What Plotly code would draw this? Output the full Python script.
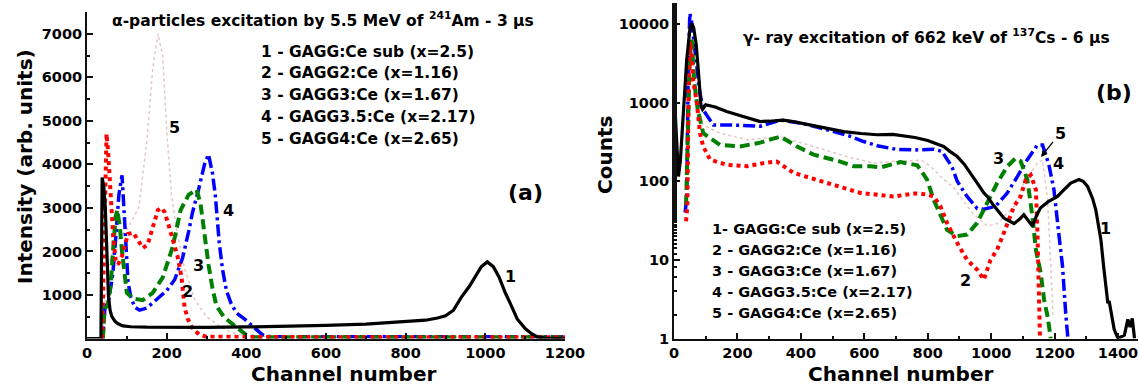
import plotly.graph_objects as go

# ---------------- Panel (a): alpha excitation ----------------
ch1a = [0, 30, 35, 38, 42, 46, 50, 54, 58, 62, 70, 78, 90, 110, 150, 200, 300, 400, 500, 600,
        700, 800, 850, 880, 900, 920, 940, 960, 975, 990, 1005, 1020, 1035, 1050, 1066, 1080,
        1100, 1116, 1130, 1150, 1200]
v1a = [0, 0, 0, 3700, 3500, 3000, 1800, 950, 650, 510, 400, 337, 290, 270, 260, 255, 255, 265, 280, 300,
       330, 380, 420, 470, 520, 650, 950, 1200, 1430, 1650, 1760, 1650, 1400, 1050, 740, 450,
       230, 110, 40, 10, 0]

ch2a = [38, 42, 45, 49, 53, 57, 61, 66, 72, 78, 88, 103, 116, 128, 140, 152, 165, 178, 187, 195,
        205, 216, 227, 237, 245, 253, 262, 272, 282, 300, 400, 600, 800, 1000, 1200]
v2a = [0, 1500, 3500, 4700, 4300, 3700, 3000, 2300, 1800, 1700, 1900, 2400, 2430, 2250, 2080, 2150,
       2550, 2950, 3000, 2900, 2600, 2270, 1900, 1430, 710, 450, 280, 170, 90, 40, 30, 30, 30, 30, 30]

ch3a = [40, 44, 52, 60, 66, 72, 76, 82, 88, 94, 100, 115, 140, 165, 190, 215, 235, 255, 275, 285,
        295, 305, 315, 325, 345, 365, 385, 400, 420, 600, 800, 1000, 1200]
v3a = [0, 700, 750, 1300, 2100, 2800, 2950, 2600, 2000, 1400, 1050, 920, 880, 1050, 1400, 2100, 2950,
       3300, 3420, 3100, 2300, 1700, 1150, 750, 480, 340, 180, 80, 30, 30, 30, 30, 30]

ch4a = [40, 45, 55, 65, 72, 80, 88, 93, 97, 103, 110, 120, 132, 150, 174, 200, 220, 240, 255, 265,
        280, 295, 305, 315, 322, 332, 340, 350, 362, 375, 395, 410, 425, 440, 460, 600, 800, 1000, 1200]
v4a = [0, 700, 900, 1500, 2300, 3300, 3750, 3000, 2300, 1300, 950, 720, 650, 700, 890, 1100, 1350,
       1850, 2450, 2900, 3420, 4000, 4230, 3800, 3300, 2200, 1600, 1100, 800, 590, 450, 330, 200, 90,
       40, 40, 40, 40, 40]

ch5a = [40, 50, 70, 100, 130, 150, 165, 178, 190, 200, 212, 225, 245, 270, 300, 330, 360, 400, 600, 1200]
v5a = [0, 1500, 2200, 2500, 3000, 4500, 6200, 7000, 6500, 4800, 3300, 2500, 1600, 900, 500, 300,
       150, 50, 30, 30]

# ---------------- Panel (b): gamma excitation ----------------
ch1b = [0, 5, 10, 14, 20, 30, 40, 50, 56, 62, 70, 78, 85, 90, 100, 130, 166, 218, 272, 300, 345,
        380, 430, 480, 535, 590, 640, 690, 720, 760, 800, 830, 850, 870, 893, 915, 935, 960, 977,
        988, 1010, 1040, 1072, 1090, 1103, 1115, 1130, 1145, 1156, 1180, 1209, 1230, 1251, 1277,
        1290, 1304, 1320, 1330, 1346, 1355, 1362, 1368, 1372, 1380, 1388, 1400, 1420, 1431, 1438,
        1445, 1452]
v1b = [1550, 600, 180, 115, 180, 800, 3500, 8500, 10200, 9000, 5500, 2200, 900, 820, 940, 880, 770,
       665, 575, 580, 600, 570, 520, 470, 428, 405, 390, 395, 380, 360, 330, 300, 277, 240, 206, 165,
       128, 90, 71, 64, 48, 34, 29, 33, 37.5, 32, 27, 38, 46, 55, 64, 78, 95, 105, 100, 86, 60, 43,
       18, 8, 4.6, 2.8, 3.0, 2.0, 1.3, 1.0, 1.1, 1.75, 1.4, 1.8, 1.0]

ch2b = [38, 42, 46, 50, 55, 60, 72, 82, 92, 114, 166, 230, 282, 324, 376, 451, 524, 588, 692, 760,
        798, 819, 840, 861, 893, 924, 956, 977, 998, 1019, 1040, 1056, 1072, 1093, 1109, 1125, 1141,
        1146, 1150, 1154]
v2b = [31, 48, 1500, 6000, 4000, 1950, 1000, 410, 277, 188, 162, 155, 170, 178, 128, 105, 86, 71, 64,
       70, 68, 64, 48, 29.4, 16.4, 10, 7.5, 5.6, 10, 13.5, 22, 32, 48, 64, 105, 120, 78, 22, 4.6, 1.0]

ch3b = [38, 45, 50, 56, 60, 64, 75, 92, 120, 145, 208, 272, 335, 388, 440, 524, 566, 620, 651, 714,
        767, 798, 819, 840, 861, 893, 924, 956, 988, 1019, 1051, 1077, 1093, 1114, 1130, 1141, 1156,
        1167, 1178, 1188]
v3b = [50, 500, 4000, 6300, 3200, 1800, 810, 410, 340, 290, 277, 310, 370, 277, 218, 178, 155, 155,
       150, 175, 160, 105, 58, 36, 24, 20, 21, 29.5, 53, 95, 155, 196, 180, 105, 36, 13.5, 6.9, 3.1,
       1.9, 1.0]

ch4b = [35, 40, 45, 50, 55, 62, 72, 82, 92, 99, 124, 176, 230, 272, 335, 398, 450, 503, 550, 598,
        645, 700, 760, 820, 845, 865, 877, 893, 924, 956, 977, 1014, 1051, 1083, 1114, 1146, 1162,
        1182, 1198, 1213, 1225, 1235, 1242]
v4b = [40, 60, 3000, 13700, 11000, 6000, 2860, 1300, 810, 740, 520, 520, 510, 500, 600, 550, 490,
       430, 380, 320, 280, 255, 250, 255, 240, 180, 150, 100, 64, 45, 44, 48, 71, 115, 188, 290, 290,
       162, 78, 22, 8.3, 2.1, 1.0]

ch5b = [45, 52, 58, 66, 80, 92, 145, 230, 335, 440, 545, 630, 700, 780, 809, 845, 880, 910, 940, 966,
        988, 1019, 1072, 1103, 1146, 1162, 1178, 1188, 1195]
v5b = [100, 4000, 5000, 2500, 600, 520, 410, 336, 370, 277, 206, 170, 180, 185, 155, 110, 85, 58, 40,
       32, 27, 29, 48, 95, 170, 188, 58, 8.3, 2.0]

legend_a = ["1 - GAGG:Ce sub (x=2.5)", "2 - GAGG2:Ce (x=1.16)", "3 - GAGG3:Ce (x=1.67)",
            "4 - GAGG3.5:Ce (x=2.17)", "5 - GAGG4:Ce (x=2.65)"]
legend_b = ["1- GAGG:Ce sub (x=2.5)", "2 - GAGG2:Ce (x=1.16)", "3 - GAGG3:Ce (x=1.67)",
            "4 - GAGG3.5:Ce (x=2.17)", "5 - GAGG4:Ce (x=2.65)"]

W, H = 1140, 389
FONT = "DejaVu Sans"

styles = {
    5: dict(color="#e4c6c6", width=1.5, dash="dot"),
    4: dict(color="#0000ff", width=3.5, dash="12px,4px,3px,4px"),
    3: dict(color="#008000", width=4, dash="10px,5px"),
    2: dict(color="#ff0000", width=4, dash="4px,4px"),
    1: dict(color="#000000", width=3.2),
}

fig = go.Figure()
series_a = {5: (ch5a, v5a), 4: (ch4a, v4a), 3: (ch3a, v3a), 2: (ch2a, v2a), 1: (ch1a, v1a)}
series_b = {5: (ch5b, v5b), 4: (ch4b, v4b), 3: (ch3b, v3b), 2: (ch2b, v2b), 1: (ch1b, v1b)}
for k, (xs, ys) in series_a.items():
    fig.add_trace(go.Scatter(x=xs, y=ys, mode="lines", line=styles[k], xaxis="x", yaxis="y",
                             showlegend=False, hoverinfo="skip"))
for k, (xs, ys) in series_b.items():
    fig.add_trace(go.Scatter(x=xs, y=ys, mode="lines", line=styles[k], xaxis="x2", yaxis="y2",
                             showlegend=False, hoverinfo="skip"))

def px(x):
    return x / W

def py(y):
    return 1 - y / H

tickfont = dict(family=FONT, size=14.5, color="black", weight="bold")
common = dict(showline=True, linecolor="#111", linewidth=2, ticks="inside", ticklen=6, tickwidth=1.5,
              tickcolor="#111", showgrid=False, zeroline=False, tickfont=tickfont, mirror=False,
              automargin=False)

fig.update_layout(
    width=W, height=H, margin=dict(l=0, r=0, t=0, b=0, autoexpand=False),
    plot_bgcolor="white", paper_bgcolor="white",
    xaxis=dict(domain=[px(87), px(565)], range=[0, 1200], tickvals=[0, 200, 400, 600, 800, 1000, 1200],
               minor=dict(dtick=100, ticks="inside", ticklen=3, tickcolor="#111"), anchor="y", **common),
    yaxis=dict(domain=[py(338.5), py(12)], range=[0, 7500],
               tickvals=[1000, 2000, 3000, 4000, 5000, 6000, 7000],
               minor=dict(tickvals=[500, 1500, 2500, 3500, 4500, 5500, 6500, 7500], ticks="inside",
                          ticklen=3, tickcolor="#111"), anchor="x", **common),
    xaxis2=dict(domain=[px(674), px(1138)], range=[0, 1463],
                tickvals=[0, 200, 400, 600, 800, 1000, 1200, 1400],
                minor=dict(dtick=100, ticks="inside", ticklen=3, tickcolor="#111"), anchor="y2", **common),
    yaxis2=dict(domain=[py(338.5), py(3)], type="log", range=[0, 4.267],
                tickvals=[1, 10, 100, 1000, 10000], ticktext=["1", "10", "100", "1000", "10000"],
                minor=dict(ticks="inside", ticklen=3, tickcolor="#111", showgrid=False),
                anchor="x2", **common),
)

ann = []

def txt(x, y, s, size, xanchor="center", angle=0):
    ann.append(dict(x=px(x), y=py(y), xref="paper", yref="paper", text=s, showarrow=False,
                    xanchor=xanchor, yanchor="middle", textangle=angle,
                    font=dict(family=FONT, size=size, color="black", weight="bold")))

# Panel (a) texts
txt(110, 20, "α-particles excitation by 5.5 MeV of <sup>241</sup>Am - 3 μs", 15.5, "left")
for i, s in enumerate(legend_a):
    txt(259, [52, 73, 95, 117, 139][i], s, 15.5, "left")
txt(525, 192, "(a)", 22)
for s, x, y in [("5", 174, 128), ("4", 228, 210), ("3", 198, 265), ("2", 187, 291), ("1", 510, 276)]:
    txt(x, y, s, 16)
txt(25, 167, "Intensity (arb. units)", 20, angle=-90)
txt(343, 374, "Channel number", 20)

# Panel (b) texts
txt(741, 37, "γ- ray excitation of 662 keV of <sup>137</sup>Cs - 6 μs", 15.5, "left")
for i, s in enumerate(legend_b):
    txt(710, [229, 250, 271, 292, 313][i], s, 14.5, "left")
txt(1114, 92, "(b)", 22)
for s, x, y in [("4", 1058, 163), ("3", 999, 159), ("2", 965, 280), ("1", 1105, 228)]:
    txt(x, y, s, 16)
ann.append(dict(x=px(1041), y=py(157), xref="paper", yref="paper", text="5", showarrow=True,
                ax=19, ay=-24, arrowhead=2, arrowsize=1, arrowwidth=1.3, arrowcolor="black",
                font=dict(family=FONT, size=16, color="black", weight="bold")))
txt(605, 155, "Counts", 20, angle=-90)
txt(900, 374, "Channel number", 20)

fig.update_layout(annotations=ann)
fig.write_html("out.html", config={"displayModeBar": False},
               post_script="document.body.style.margin='0px';document.body.style.overflow='hidden';")
